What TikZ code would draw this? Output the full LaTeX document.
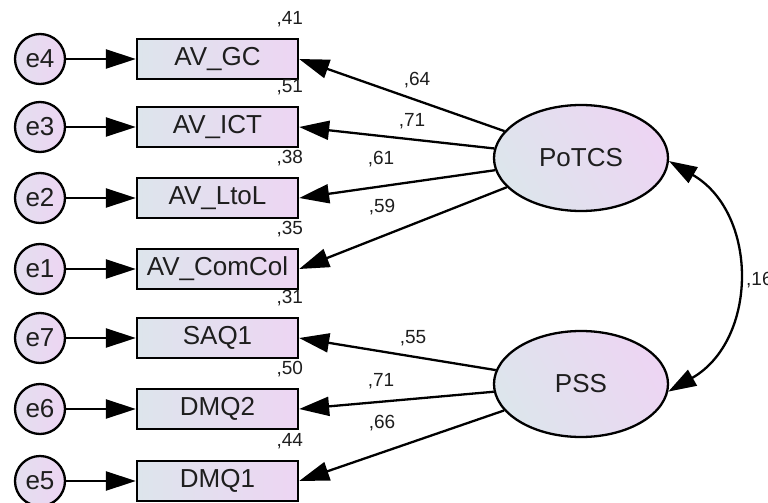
\documentclass[tikz,border=0pt]{standalone}
\usepackage{fontspec}
\setmainfont{Liberation Sans}
\usetikzlibrary{arrows.meta,shapes.geometric}

\definecolor{shadeL}{RGB}{221,229,236}
\definecolor{shadeR}{RGB}{237,213,243}
\definecolor{ink}{RGB}{30,30,30}

\tikzset{
  obs/.style={draw=black, line width=2.3pt, minimum width=161pt, minimum height=40pt,
    inner sep=0pt, left color=shadeL, right color=shadeR, text=ink,
    font=\fontsize{26}{30}\selectfont},
  err/.style={circle, draw=black, line width=2.3pt, minimum size=50pt, inner sep=0pt,
    left color=shadeL!60!shadeR, right color=shadeR, text=ink,
    font=\fontsize{26}{30}\selectfont},
  lat/.style={ellipse, draw=black, line width=2.3pt, minimum width=174pt,
    minimum height=106pt, inner sep=0pt, left color=shadeL, right color=shadeR,
    shading angle=120, text=ink, font=\fontsize{26}{30}\selectfont},
  reg/.style={line width=2.3pt, -{Triangle[length=30pt,width=19pt]}},
  cov/.style={line width=2.3pt, {Triangle[length=28pt,width=18pt]}-{Triangle[length=28pt,width=18pt]}},
  coef/.style={inner sep=0pt, text=ink, font=\fontsize{19}{22}\selectfont},
}

\begin{document}
\begin{tikzpicture}[x=1pt,y=-1pt]
\useasboundingbox (0,0) rectangle (768,503);

% observed indicators
\node[obs] (gc)  at (217.5,59)  {AV\_GC};
\node[obs] (ict) at (217.5,127) {AV\_ICT};
\node[obs] (ltl) at (217.5,198) {AV\_LtoL};
\node[obs] (cc)  at (217.5,269) {AV\_ComCol};
\node[obs] (saq) at (217.5,338) {SAQ1};
\node[obs] (dm2) at (217.5,409) {DMQ2};
\node[obs] (dm1) at (217.5,481) {DMQ1};

% error terms
\node[err] (e4) at (40,59)  {e4};
\node[err] (e3) at (40,127) {e3};
\node[err] (e2) at (40,198) {e2};
\node[err] (e1) at (40,269) {e1};
\node[err] (e7) at (40,338) {e7};
\node[err] (e6) at (40,409) {e6};
\node[err] (e5) at (40,481) {e5};

% latent factors
\node[lat] (potcs) at (581,158) {PoTCS};
\node[lat] (pss)   at (581,384) {PSS};

% error paths
\draw[reg] (e4) -- (gc);
\draw[reg] (e3) -- (ict);
\draw[reg] (e2) -- (ltl);
\draw[reg] (e1) -- (cc);
\draw[reg] (e7) -- (saq);
\draw[reg] (e6) -- (dm2);
\draw[reg] (e5) -- (dm1);

% factor loadings
\draw[reg] (potcs) -- (gc.east);
\draw[reg] (potcs) -- (ict.east);
\draw[reg] (potcs) -- (ltl.east);
\draw[reg] (potcs) -- (cc.east);
\draw[reg] (pss) -- (saq.east);
\draw[reg] (pss) -- (dm2.east);
\draw[reg] (pss) -- (dm1.east);

% factor covariance
\draw[cov] (potcs.358) to[bend left=60, looseness=1.15] (pss.355);

% squared multiple correlations
\node[coef, anchor=east] (r1) at ([xshift=4pt,yshift=19pt]gc.north east)  {,41};
\node[coef, anchor=east] (r2) at ([xshift=4pt,yshift=19pt]ict.north east) {,51};
\node[coef, anchor=east] (r3) at ([xshift=4pt,yshift=19pt]ltl.north east) {,38};
\node[coef, anchor=east] (r4) at ([xshift=4pt,yshift=19pt]cc.north east)  {,35};
\node[coef, anchor=east] (r5) at ([xshift=4pt,yshift=19pt]saq.north east) {,31};
\node[coef, anchor=east] (r6) at ([xshift=4pt,yshift=19pt]dm2.north east) {,50};
\node[coef, anchor=east] (r7) at ([xshift=4pt,yshift=19pt]dm1.north east) {,44};

% standardized loadings
\node[coef] (l1) at (417,80)  {,64};
\node[coef] (l2) at (412,121) {,71};
\node[coef] (l3) at (381,159) {,61};
\node[coef] (l4) at (382,207) {,59};
\node[coef] (l5) at (413,338) {,55};
\node[coef] (l6) at (381,381) {,71};
\node[coef] (l7) at (382,423) {,66};

% covariance value
\node[coef, anchor=west] (cv) at (746,280) {,16};
\end{tikzpicture}
\end{document}
